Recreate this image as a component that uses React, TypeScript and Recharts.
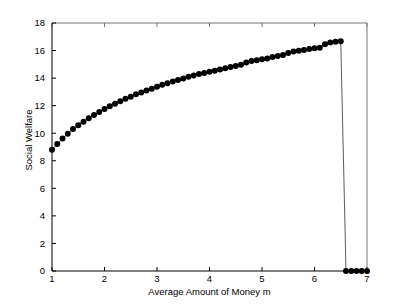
import React from 'react';
import { LineChart, Line, XAxis, YAxis, Label } from 'recharts';

const moneyLevels = [
  1.0, 1.1, 1.2, 1.3, 1.4, 1.5, 1.6, 1.7, 1.8, 1.9,
  2.0, 2.1, 2.2, 2.3, 2.4, 2.5, 2.6, 2.7, 2.8, 2.9,
  3.0, 3.1, 3.2, 3.3, 3.4, 3.5, 3.6, 3.7, 3.8, 3.9,
  4.0, 4.1, 4.2, 4.3, 4.4, 4.5, 4.6, 4.7, 4.8, 4.9,
  5.0, 5.1, 5.2, 5.3, 5.4, 5.5, 5.6, 5.7, 5.8, 5.9,
  6.0, 6.1, 6.2, 6.3, 6.4, 6.5, 6.6, 6.7, 6.8, 6.9, 7.0];

const welfare = [
  8.80, 9.22, 9.62, 9.96, 10.30, 10.57, 10.84, 11.08, 11.32, 11.54,
  11.76, 11.95, 12.14, 12.32, 12.50, 12.64, 12.82, 12.95, 13.10, 13.23,
  13.37, 13.51, 13.63, 13.75, 13.87, 13.98, 14.09, 14.19, 14.30, 14.38,
  14.47, 14.54, 14.63, 14.71, 14.80, 14.88, 14.97, 15.14, 15.24, 15.29,
  15.36, 15.43, 15.53, 15.60, 15.67, 15.82, 15.94, 15.99, 16.04, 16.11,
  16.16, 16.21, 16.45, 16.59, 16.64, 16.67, 0, 0, 0, 0, 0];

const xTicks = [1, 2, 3, 4, 5, 6, 7];
const yTicks = [0, 2, 4, 6, 8, 10, 12, 14, 16, 18];

const data = moneyLevels.map((m, i) => ({ m, w: welfare[i] }));

const font = { fontFamily: '"Liberation Sans", Arial, sans-serif', fontSize: 9.5, fill: '#000' };

export default function App() {
  return (
    <div style={{ position: 'fixed', left: 0, top: 0, width: 405, height: 305, background: '#fff' }}>
      <LineChart
        width={405}
        height={305}
        data={data}
        margin={{ top: 13, right: 28, left: 6, bottom: 4 }}>

        <XAxis
          dataKey="m"
          type="number"
          domain={[1, 7]}
          ticks={xTicks}
          interval={0}
          height={30}
          tickSize={-4}
          tickMargin={8}
          tick={font}
          stroke="#000"
          tickLine={{ stroke: '#000' }}
          axisLine={{ stroke: '#000' }}>
          <Label
            value="Average Amount of Money m"
            position="insideBottom"
            offset={6}
            style={font} />
        </XAxis>
        <XAxis
          xAxisId="top"
          orientation="top"
          dataKey="m"
          type="number"
          domain={[1, 7]}
          ticks={xTicks}
          interval={0}
          height={10}
          tickSize={-4}
          tickFormatter={() => ''}
          stroke="#777"
          tickLine={{ stroke: '#777' }}
          axisLine={{ stroke: '#777' }} />

        <YAxis
          type="number"
          domain={[0, 18]}
          ticks={yTicks}
          interval={0}
          width={46}
          tickSize={-4}
          tickMargin={11}
          tick={font}
          stroke="#000"
          tickLine={{ stroke: '#000' }}
          axisLine={{ stroke: '#000' }}>
          <Label
            value="Social Welfare"
            angle={-90}
            position="center"
            dy={-7}
            style={{ ...font, textAnchor: 'middle' }} />
        </YAxis>
        <YAxis
          yAxisId="right"
          orientation="right"
          type="number"
          domain={[0, 18]}
          ticks={yTicks}
          interval={0}
          width={10}
          tickSize={-4}
          tickFormatter={() => ''}
          stroke="#777"
          tickLine={{ stroke: '#777' }}
          axisLine={{ stroke: '#777' }} />

        <Line
          type="linear"
          dataKey="w"
          stroke="#333"
          strokeWidth={0.8}
          dot={{ r: 3, fill: '#000', stroke: '#000', strokeWidth: 0 }}
          activeDot={false}
          isAnimationActive={false} />

      </LineChart>
    </div>);

}
